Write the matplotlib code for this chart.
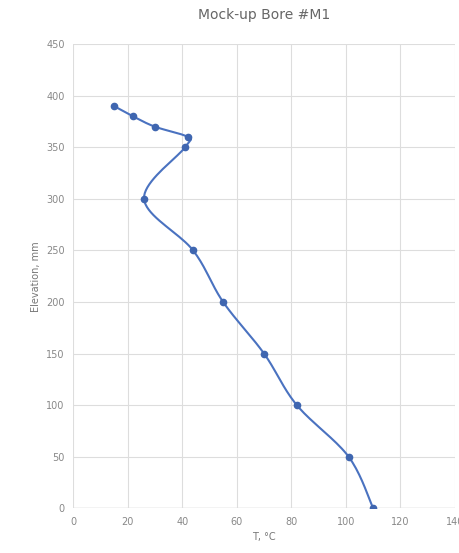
import numpy as np
from matplotlib import pyplot as plt

temp = [15, 22, 30, 42, 41, 26, 44, 55, 70, 82, 101, 110]
elev = [390, 380, 370, 360, 350, 300, 250, 200, 150, 100, 50, 0]


def smooth(xs, ys, n=20):
    # catmull-rom style curve through the points (like Excel's smoothed line)
    p = np.column_stack([xs, ys]).astype(float)
    p = np.vstack([p[0], p, p[-1]])
    out = []
    for i in range(1, len(p) - 2):
        p0, p1, p2, p3 = p[i - 1], p[i], p[i + 1], p[i + 2]
        t = np.linspace(0, 1, n)[:, None]
        c = 0.5 * ((2 * p1) + (-p0 + p2) * t + (2 * p0 - 5 * p1 + 4 * p2 - p3) * t ** 2
                   + (-p0 + 3 * p1 - 3 * p2 + p3) * t ** 3)
        out.append(c)
    c = np.vstack(out)
    return c[:, 0], c[:, 1]


fig = plt.figure(figsize=(4.6, 5.53), dpi=100)
ax = fig.add_axes([0.159, 0.081, 0.83, 0.839])

sx, sy = smooth(temp, elev)
ax.plot(sx, sy, color='#4a72c0', linewidth=1.5)
ax.plot(temp, elev, 'o', color='#3f66b0', markersize=4.5)

ax.set_xlim(0, 140)
ax.set_ylim(0, 450)
ax.set_xticks(range(0, 141, 20))
ax.set_yticks(range(0, 451, 50))
ax.grid(color='#dddddd', linewidth=0.8)
ax.set_axisbelow(True)
for s in ax.spines.values():
    s.set_visible(False)
ax.axhline(0, color='#cccccc', linewidth=1, zorder=0)
ax.tick_params(length=0, labelsize=7, colors='#888888', pad=6)

ax.set_title('Mock-up Bore #M1', fontsize=10, color='#666666', pad=18)
ax.set_xlabel('T, °C', fontsize=7, color='#777777')
ax.set_ylabel('Elevation, mm', fontsize=7, color='#777777')

fig.savefig('out.png')
